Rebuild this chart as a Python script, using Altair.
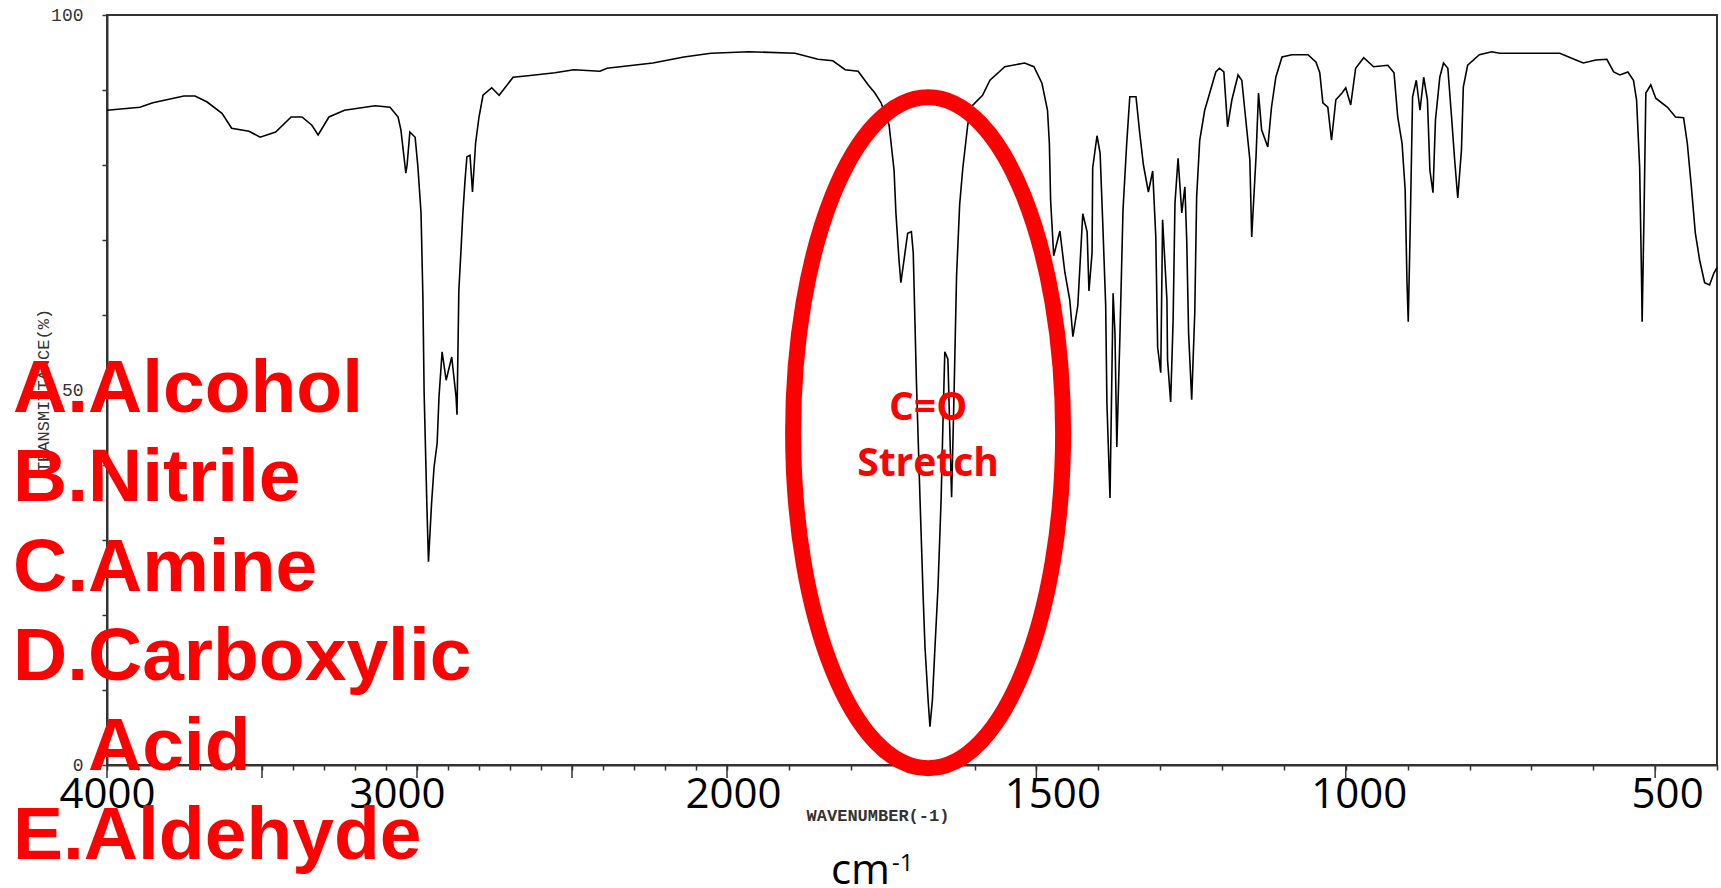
import altair as alt
import pandas as pd

# ---- spectrum values ----
wavenumber = [
    4000, 3894, 3852, 3752, 3716, 3677, 3629, 3598, 3542, 3506,
    3456, 3406, 3371, 3339, 3319, 3284, 3234, 3135, 3087, 3061,
    3052, 3042, 3036, 3032, 3023, 3006, 2997, 2987, 2981, 2977,
    2968, 2963, 2953, 2945, 2935, 2929, 2919, 2906, 2888, 2874,
    2871, 2865, 2858, 2852, 2845, 2839, 2829, 2821, 2811, 2800,
    2787, 2759, 2735, 2690, 2642, 2555, 2494, 2410, 2387, 2239,
    2139, 2052, 1964, 1890, 1853, 1829, 1809, 1788, 1772, 1761,
    1751, 1738, 1730, 1727, 1722, 1719, 1708, 1702, 1699, 1694,
    1688, 1683, 1680, 1675, 1672, 1668, 1664, 1659, 1654, 1651,
    1648, 1643, 1637, 1633, 1629, 1624, 1619, 1611, 1606, 1587,
    1575, 1551, 1519, 1504, 1491, 1482, 1479, 1477, 1472, 1462,
    1454, 1446, 1441, 1433, 1425, 1418, 1415, 1410, 1409, 1402,
    1397, 1393, 1388, 1386, 1381, 1376, 1373, 1370, 1365, 1360,
    1354, 1349, 1339, 1333, 1327, 1319, 1312, 1307, 1304, 1299,
    1296, 1289, 1288, 1283, 1279, 1276, 1271, 1265, 1260, 1257,
    1254, 1249, 1244, 1241, 1236, 1228, 1223, 1210, 1204, 1197,
    1191, 1184, 1174, 1168, 1162, 1155, 1152, 1145, 1141, 1136,
    1126, 1120, 1113, 1103, 1087, 1061, 1048, 1042, 1037, 1029,
    1023, 1016, 1006, 1000, 992, 984, 971, 955, 932, 922,
    916, 909, 904, 901, 899, 896, 892, 886, 880, 874,
    868, 864, 859, 855, 848, 842, 835, 829, 824, 819,
    813, 810, 803, 784, 764, 751, 654, 628, 616, 596,
    578, 567, 557, 544, 535, 530, 525, 522, 521, 518,
    515, 507, 499, 480, 467, 454, 448, 441, 435, 428,
    420, 412, 405, 400,
]
transmittance = [
    87.3, 87.7, 88.3, 89.2, 89.2, 88.4, 86.9, 84.9, 84.5, 83.7,
    84.4, 86.4, 86.4, 85.3, 84.0, 86.4, 87.3, 87.9, 87.7, 86.4,
    84.7, 81.1, 78.9, 80.0, 84.4, 83.7, 79.7, 73.6, 62.4, 49.6,
    34.4, 27.1, 34.9, 39.7, 42.9, 49.1, 55.1, 51.3, 54.4, 49.1,
    46.7, 63.3, 68.7, 73.6, 78.0, 81.1, 81.3, 76.4, 82.9, 86.4,
    89.3, 90.3, 89.3, 91.7, 91.9, 92.3, 92.7, 92.5, 92.9, 93.6,
    94.4, 94.9, 95.1, 94.9, 94.1, 93.9, 92.7, 92.5, 90.7, 89.6,
    88.3, 85.3, 79.3, 73.6, 67.3, 64.3, 70.9, 71.1, 68.3, 51.5,
    35.3, 22.5, 15.7, 8.7, 5.1, 8.7, 15.5, 23.7, 35.3, 45.5,
    55.1, 54.1, 35.7, 49.7, 65.2, 74.7, 79.5, 85.3, 87.7, 89.3,
    91.3, 93.1, 93.6, 93.1, 90.9, 87.3, 82.9, 75.3, 67.9, 71.2,
    65.7, 62.0, 57.1, 61.3, 73.5, 71.1, 63.2, 68.3, 79.6, 83.9,
    81.6, 72.9, 61.3, 48.3, 35.6, 62.9, 57.6, 42.4, 57.1, 74.0,
    82.9, 89.1, 89.1, 84.3, 80.0, 76.4, 79.2, 70.4, 55.7, 52.3,
    72.7, 62.0, 54.0, 48.4, 59.3, 74.9, 80.9, 73.6, 77.1, 70.0,
    57.6, 48.7, 60.3, 75.7, 83.3, 87.3, 88.7, 92.4, 92.9, 92.4,
    85.1, 88.7, 92.0, 91.3, 86.4, 80.7, 70.4, 81.1, 89.6, 84.7,
    82.4, 87.7, 91.7, 94.4, 94.7, 94.7, 93.7, 92.3, 88.3, 87.7,
    83.3, 88.7, 89.6, 90.3, 88.0, 92.9, 94.3, 93.1, 93.3, 92.3,
    86.4, 82.9, 76.7, 64.3, 59.1, 70.9, 89.1, 91.3, 87.3, 91.7,
    88.7, 79.3, 76.3, 86.0, 91.7, 93.6, 92.9, 86.4, 80.7, 75.6,
    82.0, 90.4, 93.3, 94.7, 95.1, 94.9, 94.9, 94.0, 93.6, 94.0,
    94.1, 92.4, 92.0, 92.4, 91.3, 88.7, 79.7, 65.1, 59.1, 73.1,
    89.6, 90.7, 88.9, 87.7, 86.4, 86.3, 82.9, 76.7, 70.9, 67.3,
    64.3, 64.0, 65.6, 66.3,
]

# ---- axis ticks / labels ----
x_minor_ticks = list(range(4000, 399, -100))
x_major_ticks = [4000, 3500, 3000, 2500, 2000, 1500, 1000, 500]
x_tick_labels = [4000, 3000, 2000, 1500, 1000, 500]
y_ticks = list(range(0, 101, 10))
y_tick_labels = [0, 50, 100]

# ---- annotation texts ----
answer_lines = ["A.Alcohol", "B.Nitrile", "C.Amine", "D.Carboxylic"]
answer_cont = "Acid"
answer_last = "E.Aldehyde"
band_label = ["C=O", "Stretch"]
band_center = [1675, 46.0]
ellipse_center = [1675, 44.3]
x_title = "cm"
x_title_sup = "-1"
instrument_x_title = "WAVENUMBER(-1)"
instrument_y_title = "TRANSMITTANCE(%)"

W, H = 1610, 750
RED = "#ff0000"

df = pd.DataFrame({"i": range(len(wavenumber)), "w": wavenumber, "t": transmittance})

xscale = alt.Scale(domain=[4000, 2000, 400], range=[0, 620, W], nice=False, zero=False)
yscale = alt.Scale(domain=[0, 100], nice=False, zero=False)

xlab_expr = "indexof([" + ",".join(str(v) for v in x_tick_labels) + "], datum.value) >= 0 ? '' + datum.value : ''"
ylab_expr = "indexof([" + ",".join(str(v) for v in y_tick_labels) + "], datum.value) >= 0 ? '' + datum.value : ''"

# the large tick labels in the picture sit slightly off their ticks
label_shift = {3000: -20, 2000: 6, 1500: 16, 1000: 13, 500: 12}
label_offset = {
    "condition": [{"test": f"datum.value === {k}", "value": v} for k, v in label_shift.items()],
    "value": 0,
}

xaxis = alt.Axis(
    values=x_minor_ticks, labelExpr=xlab_expr, grid=False,
    tickSize=5, tickWidth=1.5, tickColor="#333",
    domainColor="#333", domainWidth=2,
    labelFont="Open Sans", labelFontSize=42, labelColor="black",
    labelBaseline="alphabetic", labelPadding=37, labelOffset=label_offset,
    labelOverlap=False, labelBound=False, labelFlush=False,
    title=x_title, titleFont="Open Sans", titleFontSize=42,
    titleFontWeight="normal", titleColor="black",
    titleX=753, titleY=118, titleBaseline="alphabetic", titleAlign="center")

yaxis = alt.Axis(
    values=y_ticks, labelExpr=ylab_expr, grid=False,
    tickSize=5, tickWidth=1.5, tickColor="#333",
    domainColor="#333", domainWidth=2,
    labelFont="Liberation Mono", labelFontSize=18, labelColor="#333",
    labelPadding=19, labelOverlap=False,
    title=instrument_y_title, titleFont="Liberation Mono", titleFontSize=17,
    titleFontWeight="normal", titleColor="#333", titleAngle=270,
    titleX=-64, titleY=H / 2, titleAlign="center", titleBaseline="middle")

line = alt.Chart(df).mark_line(color="black", strokeWidth=1.6).encode(
    x=alt.X("w:Q", scale=xscale, axis=xaxis),
    y=alt.Y("t:Q", scale=yscale, axis=yaxis),
    order="i:Q",
)

major = alt.Chart(pd.DataFrame({"w": x_major_ticks})).mark_rule(color="#333", strokeWidth=1.5).encode(
    x=alt.X("w:Q", scale=xscale, axis=xaxis),
    y=alt.value(H), y2=alt.value(H + 13),
)

one = alt.Data(values=[{}])

ellipse_path = "M0,-1A0.4024,1,0,1,1,0,1A0.4024,1,0,1,1,0,-1Z"
ellipse = alt.Chart(one).mark_point(
    shape=ellipse_path, size=671 ** 2, filled=False, stroke=RED, strokeWidth=16, opacity=1
).encode(x=alt.datum(ellipse_center[0]), y=alt.datum(ellipse_center[1]))

band = alt.Chart(one).mark_text(
    text=band_label, font="Open Sans", fontSize=39, fontWeight="bold", color=RED,
    align="center", baseline="alphabetic", lineHeight=56
).encode(x=alt.datum(band_center[0]), y=alt.datum(band_center[1]))

answers = alt.Chart(one).mark_text(
    text=answer_lines, font="Liberation Sans", fontSize=75, fontWeight="bold", color=RED,
    align="left", baseline="alphabetic", lineHeight=89.3
).encode(x=alt.value(-94), y=alt.value(397))

answers2 = alt.Chart(one).mark_text(
    text=answer_cont, font="Liberation Sans", fontSize=75, fontWeight="bold", color=RED,
    align="left", baseline="alphabetic"
).encode(x=alt.value(-19), y=alt.value(755))

answers3 = alt.Chart(one).mark_text(
    text=answer_last, font="Liberation Sans", fontSize=75, fontWeight="bold", color=RED,
    align="left", baseline="alphabetic"
).encode(x=alt.value(-94), y=alt.value(844))

wn = alt.Chart(one).mark_text(
    text=instrument_x_title, font="Liberation Mono", fontSize=17, fontWeight="bold", color="#333",
    align="center", baseline="middle"
).encode(x=alt.value(771), y=alt.value(801))

sup = alt.Chart(one).mark_text(
    text=x_title_sup, font="Open Sans", fontSize=24, color="black",
    align="left", baseline="alphabetic"
).encode(x=alt.value(785), y=alt.value(856))

chart = alt.layer(line, major, ellipse, band, answers, answers2, answers3, wn, sup).properties(
    width=W, height=H,
    padding={"left": 107, "top": 15, "right": 4, "bottom": 123},
    autosize=alt.AutoSizeParams(type="none"),
).configure_view(stroke="#333", strokeWidth=2)

chart.save("out.html", embed_options={"renderer": "svg", "actions": False})
